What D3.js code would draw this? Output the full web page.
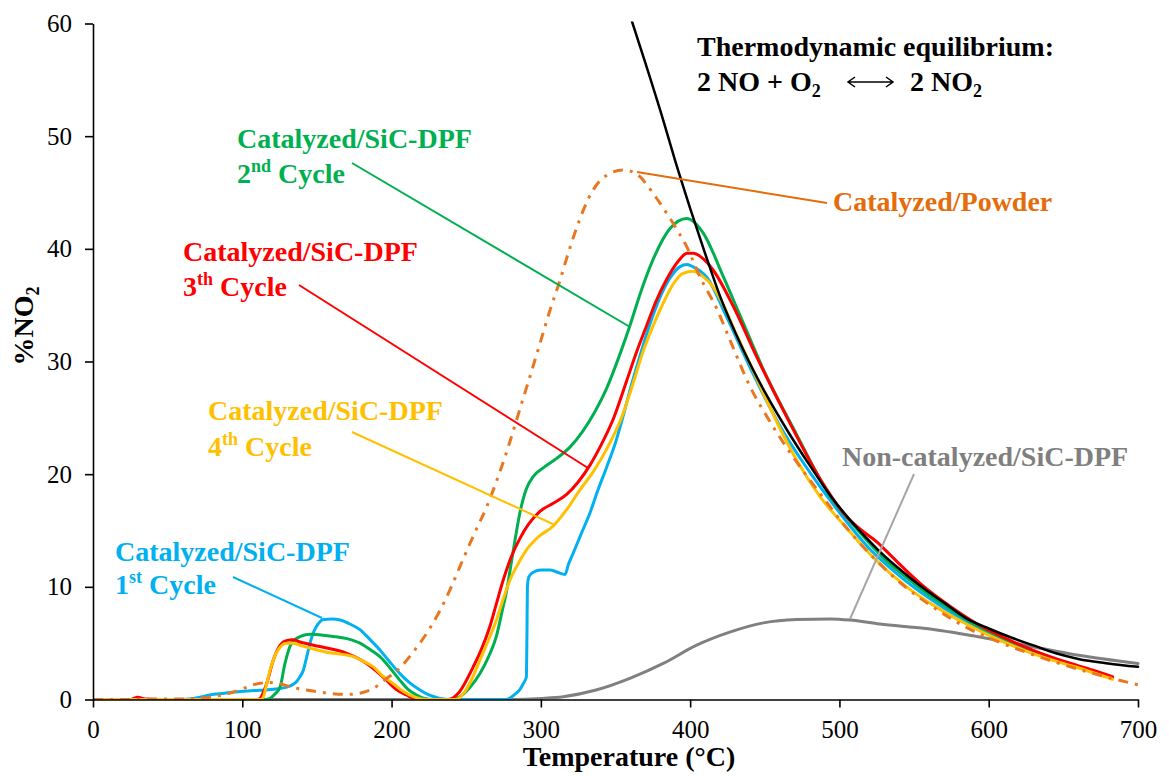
<!DOCTYPE html>
<html>
<head>
<meta charset="utf-8">
<script src="https://cdn.jsdelivr.net/npm/d3@7"></script>
<style>
  html, body { margin: 0; padding: 0; background: #fff; }
  svg { display: block; }
  text { font-family: "Liberation Serif", "Times New Roman", serif; }
</style>
</head>
<body>
<svg id="chart" width="1169" height="776"></svg>
<script>
// ---------------- DATA ----------------
const xTicks = [0, 100, 200, 300, 400, 500, 600, 700];
const yTicks = [0, 10, 20, 30, 40, 50, 60];

// [Temperature °C, %NO2]
const equilibrium = [[361,60.2],[370,56.5],[382,51.4],[390,47.8],[400,43.6],[410,39.6],[420,35.8],[435,31.2],[450,27.3],[465,23.9],[480,20.8],[495,17.9],[510,15.5],[525,13.4],[540,11.6],[555,10.0],[570,8.6],[585,7.2],[600,6.3],[615,5.5],[630,4.8],[645,4.1],[660,3.6],[680,3.2],[700,2.9]];

const nonCatalyzed = [[0,0],[280,0],[300,0.1],[315,0.25],[337,0.84],[360,1.9],[382,3.2],[404,4.8],[427,6.0],[449,6.8],[471,7.1],[494,7.15],[507,7.05],[527,6.7],[558,6.3],[592,5.6],[625,4.8],[659,3.95],[700,3.2]];

const powder = [[0,0],[20,0],[40,0.05],[60,0.05],[80,0.25],[90,0.5],[98.5,0.85],[105,1.2],[112,1.45],[118,1.5],[125,1.4],[133,1.1],[143,0.84],[155,0.6],[170,0.45],[180,0.6],[188,1.0],[195,1.7],[205.6,2.8],[215,4.3],[226,6.4],[232.4,7.9],[240,10.0],[245.8,11.8],[255,14.6],[263.7,17.1],[272,20.0],[279.3,22.9],[286,25.8],[293,28.8],[299.4,31.6],[306,34.5],[312.8,37.2],[319,39.9],[326,42.6],[332,44.5],[338,45.8],[345,46.6],[355,47.0],[360,46.9],[366.4,46.4],[372,45.5],[378,44.4],[386.5,42.7],[393,41.3],[397.7,40.2],[406.6,37.5],[417.8,34.7],[426.7,31.9],[440,27.8],[451,25.2],[467,21.9],[487,18.3],[505,15.2],[525,12.3],[545,9.9],[565,8.0],[585,6.4],[605,5.2],[625,4.2],[645,3.3],[665,2.5],[685,1.8],[700,1.3]];

const cycle1 = [[0,0],[60,0],[70,0.15],[78,0.4],[88,0.55],[98.5,0.7],[108,0.8],[116,0.85],[124,0.95],[129.7,1.1],[133.5,1.3],[136.4,1.6],[138.5,2.0],[140.9,2.6],[143,3.7],[145.4,5.0],[147.5,5.9],[149.8,6.5],[152,6.9],[154.3,7.1],[160,7.15],[165.5,7.05],[172,6.7],[178.8,6.2],[185,5.4],[192.2,4.4],[199,3.3],[205.6,2.3],[212,1.5],[219,0.84],[225,0.4],[232.4,0.1],[240,0],[277,0],[282,0.4],[286,0.9],[288.2,1.4],[290.3,2.0],[290.7,6.0],[291,10.0],[292,10.9],[295,11.3],[300,11.5],[306,11.5],[311,11.3],[316.2,11.1],[318.5,12.0],[321.7,13.0],[327,14.7],[333,16.6],[338,18.5],[344,20.6],[350,22.8],[355,25.1],[360,27.6],[366.4,30.5],[373,33.3],[379.8,35.7],[386,37.3],[393,38.4],[398,38.6],[402,38.4],[411,37.5],[425,33.8],[440,29.5],[460,24.3],[480,20.2],[500,16.6],[520,13.4],[540,11.0],[560,9.0],[580,7.3],[600,5.9],[620,4.7],[640,3.8],[660,2.9],[680,2.1]];

const cycle2 = [[0,0],[50,0],[115,0],[118.6,0.1],[122,0.5],[125.3,1.1],[128.6,3.2],[133,5.0],[139,5.6],[145.7,5.8],[161,5.6],[170,5.4],[178.8,5.0],[186,4.4],[192.2,3.8],[199,2.8],[205.6,1.7],[211,0.9],[216.8,0.4],[222,0.1],[228,0],[240,0],[245.8,0.25],[252,1.0],[259.2,2.3],[265,3.8],[270.2,5.6],[274,7.8],[277,9.6],[281.5,13.2],[286,16.6],[290,18.6],[295,19.8],[302,20.6],[310.6,21.4],[319.5,22.4],[328,23.8],[336,25.5],[344,27.6],[352,30.3],[359.7,33.2],[367,36.2],[375,39.0],[386.5,41.8],[397.7,42.7],[408.8,41.4],[422,37.6],[433.4,34.1],[449,29.3],[471,23.6],[494,18.0],[510,15.4],[530,12.5],[550,10.3],[570,8.4],[590,6.7],[610,5.4],[630,4.3],[650,3.3],[670,2.5],[683,2.0]];

const cycle3 = [[0,0],[25,0],[30,0.2],[35,0.05],[45,0],[110,0],[111.9,0.1],[114,0.6],[116.3,1.4],[120.8,3.5],[125.3,4.8],[130,5.25],[134,5.3],[138.7,5.1],[152,4.7],[170,4.1],[183.3,3.2],[190,2.5],[196.7,1.7],[203,0.9],[210,0.4],[215,0.1],[220,0],[238,0],[245,0.6],[254.7,2.9],[260,4.4],[265.9,6.5],[270,8.4],[274.8,10.6],[280,12.6],[286,14.3],[292,15.6],[299.4,16.7],[308,17.4],[317.3,18.2],[325,19.3],[332.9,20.8],[339.6,22.4],[348.5,24.9],[357.5,28.3],[364,30.8],[370.9,33.2],[377,35.3],[384.3,37.3],[392,38.9],[398,39.6],[402,39.6],[408,39.2],[415.5,38.1],[428.9,34.9],[445,30.3],[465,25.0],[487,19.6],[505,16.2],[515,15.0],[525,14.0],[535,12.7],[555,10.2],[575,8.2],[595,6.5],[615,5.2],[635,4.1],[655,3.2],[670,2.6],[683,2.0]];

const cycle4 = [[0,0],[112,0],[114,0.2],[116,1.2],[118.6,2.6],[123,4.2],[129.7,5.0],[134,5.0],[138.7,4.8],[156.5,4.2],[174.4,3.8],[181,3.4],[187.8,2.9],[194,2.1],[201.2,1.4],[208,0.7],[214.6,0.25],[220,0.05],[225,0],[243,0],[248,0.5],[253,1.6],[259.2,3.5],[265,5.3],[270.4,7.1],[275,9.0],[279.3,10.6],[285,12.1],[290.5,13.3],[298,14.4],[308.3,15.4],[317,16.8],[326.2,18.6],[335,20.2],[344,22.2],[354,25.0],[361.9,28.1],[368,30.7],[375.3,33.2],[382,35.2],[388.8,36.9],[395,37.8],[402,38.0],[408,37.6],[415.5,36.6],[423,34.8],[431,32.4],[438,30.4],[449,27.2],[460,24.1],[472,21.1],[487,18.0],[505,15.2],[525,12.3],[545,10.0],[565,8.2],[585,6.7],[605,5.4],[625,4.3],[645,3.4],[665,2.6],[683,1.8]];

// ---------------- CHART ----------------
const svg = d3.select("#chart");
const W = 1169, H = 776;
const margin = {left: 93, right: 31, top: 23.5, bottom: 76.5};
const x = d3.scaleLinear().domain([0, 700]).range([margin.left, W - margin.right]);
const y = d3.scaleLinear().domain([0, 60]).range([H - margin.bottom, margin.top]);

const line = d3.line().x(d => x(d[0])).y(d => y(d[1])).curve(d3.curveMonotoneX);

const COL = {
  green: "#00B050", red: "#FF0000", yellow: "#FFC000", blue: "#00B0F0",
  orange: "#E87722", orangeText: "#E46C0A", gray: "#808080", grayText: "#7F7F7F", grayLeader: "#A6A6A6"
};

svg.append("defs").append("clipPath").attr("id", "clip")
  .append("rect").attr("x", margin.left).attr("y", margin.top - 2)
  .attr("width", W - margin.left - margin.right + 2).attr("height", H - margin.top - margin.bottom + 2);

const g = svg.append("g").attr("clip-path", "url(#clip)");

function drawSeries(data, color, width, dash) {
  const p = g.append("path").datum(data)
    .attr("d", line).attr("fill", "none")
    .attr("stroke", color).attr("stroke-width", width)
    .attr("stroke-linejoin", "round");
  if (dash) p.attr("stroke-dasharray", dash).attr("stroke-linecap", "butt");
  else p.attr("stroke-linecap", "round");
}

drawSeries(nonCatalyzed, COL.gray, 3);
drawSeries(cycle1, COL.blue, 3);
drawSeries(cycle2, COL.green, 3);
drawSeries(cycle3, COL.red, 3);
drawSeries(cycle4, COL.yellow, 3);
drawSeries(powder, COL.orange, 3, "10,7,3,7");
drawSeries(equilibrium, "#000", 2.5);

// axes
const xAxis = d3.axisBottom(x).tickValues(xTicks).tickSizeInner(8).tickSizeOuter(0).tickPadding(13);
const yAxis = d3.axisLeft(y).tickValues(yTicks).tickSizeInner(8).tickSizeOuter(0).tickPadding(13);

const gx = svg.append("g").attr("transform", `translate(0,${y(0)})`).call(xAxis);
const gy = svg.append("g").attr("transform", `translate(${x(0)},0)`).call(yAxis);
[gx, gy].forEach(a => {
  a.attr("font-family", "Liberation Serif, serif");
  a.select(".domain").attr("stroke", "#000").attr("stroke-width", 1.6);
  a.selectAll(".tick line").attr("stroke", "#000").attr("stroke-width", 1.6);
  a.selectAll(".tick text").attr("font-family", "Liberation Serif, serif")
    .attr("font-size", 25).attr("fill", "#000");
});

// axis titles
svg.append("text").attr("x", 629).attr("y", 766).attr("text-anchor", "middle")
  .attr("font-size", 28).attr("font-weight", "bold").text("Temperature (°C)");

const yt = svg.append("text").attr("transform", "translate(33,326) rotate(-90)")
  .attr("text-anchor", "middle").attr("font-size", 28).attr("font-weight", "bold");
yt.append("tspan").text("%NO");
yt.append("tspan").attr("font-size", 18).attr("dy", 6).text("2");

// annotation helper
function label(xp, yp, color, main, sup, rest) {
  const t = svg.append("text").attr("x", xp).attr("y", yp).attr("fill", color)
    .attr("font-size", 28).attr("font-weight", "bold");
  t.append("tspan").text(main);
  if (sup) {
    t.append("tspan").attr("font-size", 18).attr("dy", -11).text(sup);
    t.append("tspan").attr("dy", 11).text(rest);
  }
  return t;
}
function leader(x1, y1, x2, y2, color) {
  svg.append("line").attr("x1", x1).attr("y1", y1).attr("x2", x2).attr("y2", y2)
    .attr("stroke", color).attr("stroke-width", 2);
}

// Green – 2nd cycle
label(237, 148, COL.green, "Catalyzed/SiC-DPF");
label(237, 183, COL.green, "2", "nd", " Cycle");
leader(352, 163, 630, 327, COL.green);

// Red – 3th cycle
label(183, 261, COL.red, "Catalyzed/SiC-DPF");
label(183, 296, COL.red, "3", "th", " Cycle");
leader(299, 285, 588, 468, COL.red);

// Yellow – 4th cycle
label(208, 420, COL.yellow, "Catalyzed/SiC-DPF");
label(208, 456, COL.yellow, "4", "th", " Cycle");
leader(352, 432, 555, 525, COL.yellow);

// Blue – 1st cycle
label(115, 561, COL.blue, "Catalyzed/SiC-DPF");
label(115, 594, COL.blue, "1", "st", " Cycle");
leader(233, 577, 322, 618, COL.blue);

// Orange – powder
label(833, 211, COL.orangeText, "Catalyzed/Powder");
leader(637, 172, 827, 203, COL.orangeText);

// Gray – non-catalyzed
label(842, 466, COL.grayText, "Non-catalyzed/SiC-DPF");
leader(914, 474, 850, 619, COL.grayLeader);

// Equilibrium text
svg.append("text").attr("x", 697).attr("y", 56).attr("font-size", 28).attr("font-weight", "bold")
  .text("Thermodynamic equilibrium:");
const eq = svg.append("text").attr("x", 697).attr("y", 91).attr("font-size", 28).attr("font-weight", "bold");
eq.append("tspan").text("2 NO + O");
eq.append("tspan").attr("font-size", 18).attr("dy", 6).text("2");
const eq2 = svg.append("text").attr("x", 910).attr("y", 91).attr("font-size", 28).attr("font-weight", "bold");
eq2.append("tspan").text("2 NO");
eq2.append("tspan").attr("font-size", 18).attr("dy", 6).text("2");
// double arrow
const ay = 82, ax1 = 848, ax2 = 893;
svg.append("path")
  .attr("d", `M${ax1},${ay}L${ax2},${ay}M${ax1 + 7},${ay - 5}L${ax1},${ay}L${ax1 + 7},${ay + 5}M${ax2 - 7},${ay - 5}L${ax2},${ay}L${ax2 - 7},${ay + 5}`)
  .attr("fill", "none").attr("stroke", "#000").attr("stroke-width", 1.5);
</script>
</body>
</html>
